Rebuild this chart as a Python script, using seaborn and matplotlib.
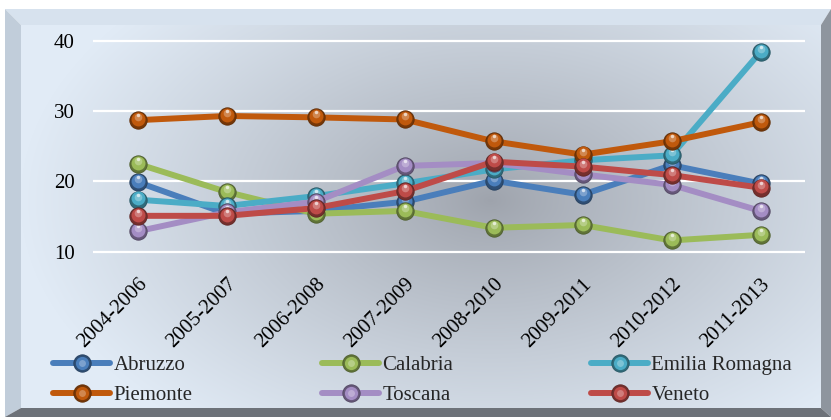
import numpy as np
import matplotlib
matplotlib.use("Agg")
import matplotlib.pyplot as plt
import matplotlib.colors as mcolors
from matplotlib.lines import Line2D
from matplotlib.legend_handler import HandlerTuple
from matplotlib.patches import Polygon
from matplotlib.transforms import ScaledTranslation
import seaborn as sns

# ---- data -------------------------------------------------------------
periods = ["2004-2006", "2005-2007", "2006-2008", "2007-2009",
           "2008-2010", "2009-2011", "2010-2012", "2011-2013"]
y_ticks = [10, 20, 30, 40]

abruzzo = [19.9, 15.4, 15.8, 17.1, 20.1, 18.1, 22.3, 19.7]
calabria = [22.5, 18.5, 15.4, 15.8, 13.4, 13.8, 11.6, 12.4]
emilia_romagna = [17.4, 16.5, 17.9, 19.7, 21.7, 23.0, 23.7, 38.4]
piemonte = [28.7, 29.3, 29.1, 28.8, 25.7, 23.8, 25.7, 28.4]
toscana = [12.9, 15.6, 17.1, 22.2, 22.6, 21.0, 19.5, 15.8]
veneto = [15.1, 15.1, 16.2, 18.6, 22.8, 22.1, 20.9, 19.1]

regions = ["Abruzzo", "Calabria", "Emilia Romagna", "Piemonte", "Toscana", "Veneto"]
series = [abruzzo, calabria, emilia_romagna, piemonte, toscana, veneto]
colors = ["#4a7ebb", "#9bbb59", "#4bacc6", "#c0590c", "#a48dc4", "#be4b48"]

# ---- style ------------------------------------------------------------
sns.set_style("white")
plt.rcParams["font.family"] = ["Liberation Serif", "DejaVu Serif"]
FS = 15

W, H = 831, 420
fig = plt.figure(figsize=(W / 100, H / 100), dpi=100)
fig.patch.set_facecolor("white")

# ---- bevelled panel ---------------------------------------------------
bg = fig.add_axes([0, 0, 1, 1])
bg.set_xlim(0, W)
bg.set_ylim(H, 0)
bg.axis("off")

ox0, oy0, ox1, oy1 = 5, 9, 831, 417
ix0, iy0, ix1, iy1 = 21, 25, 821, 408

yy, xx = np.mgrid[iy0:iy1, ix0:ix1]
d = np.sqrt(((xx - 490) / 470.0) ** 2 + ((yy - 200) / 290.0) ** 2)
t = np.clip(d, 0, 1) ** 0.85
dark = np.array(mcolors.to_rgb("#9ea3ac"))
light = np.array(mcolors.to_rgb("#e1ebf6"))
face = dark + (light - dark) * t[..., None]
bg.imshow(face, extent=(ix0, ix1, iy1, iy0), aspect="auto",
          interpolation="bilinear", zorder=0)

bevels = [
    ([(ox0, oy0), (ox1, oy0), (ix1, iy0), (ix0, iy0)], "#d7e2ee"),
    ([(ox0, oy0), (ix0, iy0), (ix0, iy1), (ox0, oy1)], "#c1cdda"),
    ([(ox1, oy0), (ox1, oy1), (ix1, iy1), (ix1, iy0)], "#8e959e"),
    ([(ox0, oy1), (ox1, oy1), (ix1, iy1), (ix0, iy1)], "#6d7279"),
]
for pts, c in bevels:
    bg.add_patch(Polygon(pts, closed=True, facecolor=c, edgecolor="none", zorder=1))

# ---- plot area --------------------------------------------------------
px_per_unit = (251.7 - 40.7) / 30.0
ylo, yhi = 9.5, 40.5
top_px = 40.7 - (yhi - 40) * px_per_unit
bot_px = 251.7 + (10 - ylo) * px_per_unit
ax = fig.add_axes([93 / W, 1 - bot_px / H, 712 / W, (bot_px - top_px) / H])
ax.set_facecolor("none")
ax.set_xlim(-0.5, len(periods) - 0.5)
ax.set_ylim(ylo, yhi)

pos = list(range(len(periods)))


def shade(c, f):
    r = np.array(mcolors.to_rgb(c))
    return tuple(np.clip(r * f, 0, 1))


def tint(c, f):
    r = np.array(mcolors.to_rgb(c))
    return tuple(np.clip(r + (1 - r) * f, 0, 1))


def nudge(dx, dy):
    return ScaledTranslation(dx / 100, dy / 100, fig.dpi_scale_trans)


z = 3
for name, vals, c in zip(regions, series, colors):
    sns.lineplot(x=pos, y=vals, color=c, lw=4.3, ax=ax, zorder=z,
                 solid_capstyle="round", solid_joinstyle="round")
    # glossy sphere markers: dark rim, body, upper glow, specular spot
    ax.plot(pos, vals, ls="none", marker="o", ms=12.5, mfc=shade(c, 0.62),
            mec=shade(c, 0.5), mew=0.6, zorder=z + 1, clip_on=False)
    ax.plot(pos, vals, ls="none", marker="o", ms=10, mfc=c, mec="none",
            zorder=z + 2, clip_on=False, transform=ax.transData + nudge(0, 1.2))
    ax.plot(pos, vals, ls="none", marker="o", ms=5.5, mfc=tint(c, 0.35), mec="none",
            alpha=0.8, zorder=z + 3, clip_on=False, transform=ax.transData + nudge(0, 3))
    ax.plot(pos, vals, ls="none", marker="o", ms=2.5, mfc=tint(c, 0.8), mec="none",
            alpha=0.9, zorder=z + 3.5, clip_on=False, transform=ax.transData + nudge(0, 5))
    z += 4

ax.set_yticks(y_ticks)
ax.set_yticklabels([str(v) for v in y_ticks], fontsize=FS)
ax.set_xticks(pos)
ax.set_xticklabels(periods, fontsize=FS, rotation=45, ha="right", va="top",
                   rotation_mode="anchor")
for lab in ax.get_xticklabels():
    lab.set_transform(lab.get_transform() + nudge(3, 0))
ax.tick_params(axis="y", length=0, pad=13, colors="black")
ax.tick_params(axis="x", length=0, pad=14, colors="black")
ax.yaxis.grid(True, color="white", lw=1.6)
ax.xaxis.grid(False)
for s in ax.spines.values():
    s.set_visible(False)
ax.set_xlabel("")
ax.set_ylabel("")

# ---- legend: three columns of two entries -----------------------------
def handle(c):
    return (Line2D([], [], color=c, lw=4.3, solid_capstyle="round"),
            Line2D([], [], ls="none", marker="o", ms=12.5, mfc=shade(c, 0.62),
                   mec=shade(c, 0.5), mew=0.6),
            Line2D([], [], ls="none", marker="o", ms=9.5, mfc=c, mec="none"),
            Line2D([], [], ls="none", marker="o", ms=5, mfc=tint(c, 0.35), mec="none",
                   alpha=0.8))


col_x = [53, 322, 591]
for k, x in enumerate(col_x):
    idx = [k, k + 3]
    fig.legend([handle(colors[i]) for i in idx], [regions[i] for i in idx],
               handler_map={tuple: HandlerTuple(ndivide=1, pad=0)},
               loc="center left", bbox_to_anchor=(x / W, 1 - 380 / H),
               frameon=False, fontsize=FS, borderpad=0, borderaxespad=0,
               handlelength=2.75, handletextpad=0.15, labelspacing=0.5,
               numpoints=1)

fig.savefig("out.png", dpi=100, facecolor=fig.get_facecolor())
